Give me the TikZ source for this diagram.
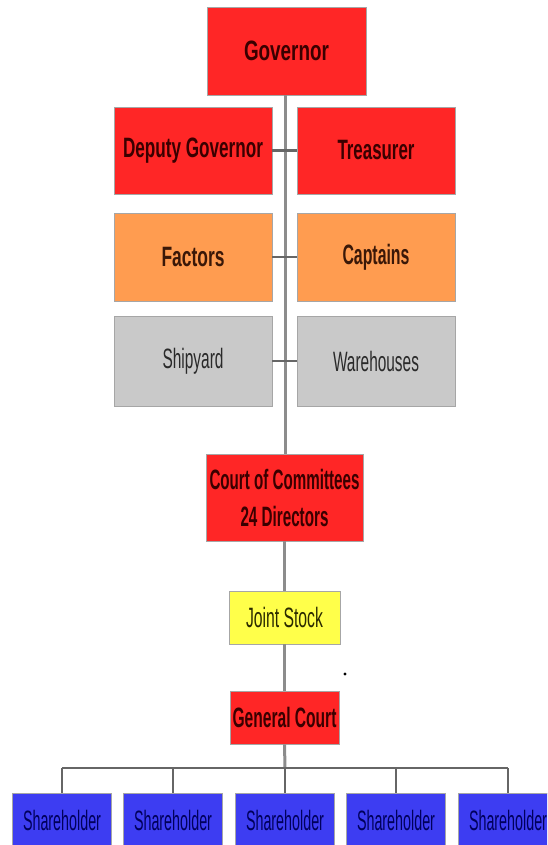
\documentclass[tikz,border=0pt]{standalone}
\usepackage{fontspec}
\setmainfont{Liberation Sans}
\usepackage{graphicx}
\definecolor{cred}{HTML}{FF2626}
\definecolor{corange}{HTML}{FF9C50}
\definecolor{cgray}{HTML}{C9C9C9}
\definecolor{cyellow}{HTML}{FFFF4A}
\definecolor{cblue}{HTML}{3D3DF2}
\definecolor{tred}{HTML}{3A0000}
\definecolor{torange}{HTML}{3A1808}
\definecolor{tgray}{HTML}{2A2A2A}
\definecolor{tyellow}{HTML}{2A2A00}
\definecolor{tblue}{HTML}{00005C}
\definecolor{cline}{HTML}{8C8C8C}
\definecolor{cline2}{HTML}{666666}
\newlength\tmpw
\newcommand\fw[2]{\settowidth\tmpw{#2}\pgfmathsetmacro\sx{#1/\tmpw}\scalebox{\sx}[1]{#2}}
\tikzset{
  box/.style={rectangle, inner sep=0pt, draw=black!35, line width=0.7pt,
    font=\fontsize{28}{37}\selectfont, align=center},
  redbox/.style={box, fill=cred, text=tred, font=\fontsize{28}{37}\selectfont\bfseries},
  orangebox/.style={box, fill=corange, text=torange, font=\fontsize{28}{37}\selectfont\bfseries},
  graybox/.style={box, fill=cgray, text=tgray},
  yellowbox/.style={box, fill=cyellow, text=tyellow},
  bluebox/.style={box, fill=cblue, text=tblue, minimum width=99pt, minimum height=60pt,
    text height=37pt, text depth=23pt},
  trunk/.style={draw=cline, line width=3pt},
  link/.style={draw=cline2, line width=2.5pt}
}
\begin{document}
\begin{tikzpicture}[x=1pt,y=-1pt]
\useasboundingbox (0,0) rectangle (547,845);
\clip (0,0) rectangle (547,845);
% nodes
\node[redbox, minimum width=159pt, minimum height=88pt] (gov) at (286.5,51) {\fw{85}{Governor}};
\node[redbox, minimum width=158pt, minimum height=87pt] (dep) at (193,150.5) {\fw{140}{Deputy Governor}};
\node[redbox, minimum width=158pt, minimum height=87pt] (tre) at (376,150.5) {\fw{77}{Treasurer}};
\node[orangebox, minimum width=158pt, minimum height=88pt] (fac) at (193,257) {\fw{63}{Factors}};
\node[orangebox, minimum width=158pt, minimum height=88pt] (cap) at (376,257) {\fw{67}{Captains}};
\node[graybox, minimum width=158pt, minimum height=90pt] (ship) at (193,361) {\fw{61}{Shipyard}};
\node[graybox, minimum width=158pt, minimum height=90pt] (ware) at (376,361) {\fw{86}{Warehouses}};
\node[redbox, minimum width=157pt, minimum height=87pt] (court) at (284.5,497.5) {\fw{150}{Court of Committees}\\\fw{88}{24 Directors}};
\node[yellowbox, minimum width=111pt, minimum height=53pt] (joint) at (284.5,617.5) {\fw{77}{Joint Stock}};
\node[redbox, minimum width=109pt, minimum height=53pt] (gen) at (284.5,717.5) {\fw{104}{General Court}};
\foreach \i/\x in {1/62,2/173,3/285,4/396,5/508}{
  \node[bluebox, anchor=north] (sh\i) at (\x,793) {\fw{78}{Shareholder}};
}
\coordinate (barL) at (62,768);
\coordinate (barR) at (508,768);
\coordinate (barM) at (285,768);
\coordinate (t0) at (285,95);
\coordinate (t1) at (285,454);
% connectors
\draw[trunk] (t0) -- (t1);
\draw[link] (dep.east) -- (tre.west);
\draw[link] (fac.east) -- (cap.west);
\draw[link] (ship.east) -- (ware.west);
\draw[trunk] (court.south) -- (joint.north);
\draw[trunk] (joint.south) -- (gen.north);
\draw[trunk] (gen.south) -- (barM);
\draw[link] (barL) -- (barR);
\foreach \i/\x in {1/62,2/173,3/285,4/396,5/508}{
  \draw[link] (\x,768) -- (sh\i.north);
}
\fill (345,674) circle (1.6pt);
\end{tikzpicture}
\end{document}
